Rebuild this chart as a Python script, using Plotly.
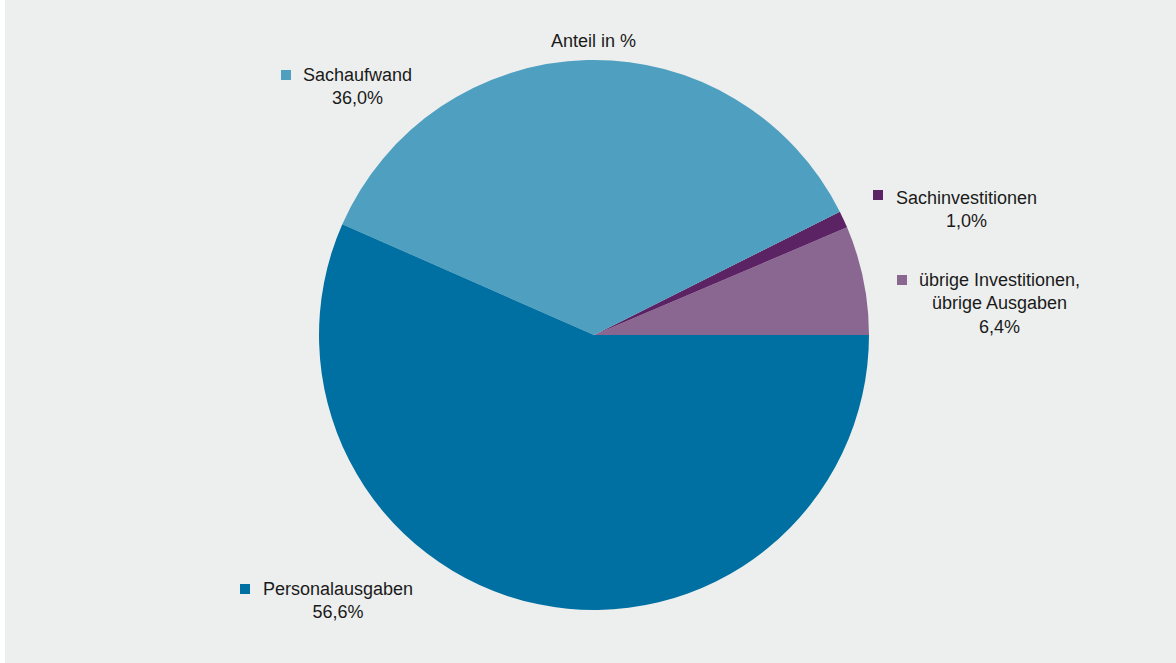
import plotly.graph_objects as go

categories = ["übrige Investitionen,<br>übrige Ausgaben", "Sachinvestitionen", "Sachaufwand", "Personalausgaben"]
values = [6.4, 1.0, 36.0, 56.6]
value_labels = ["6,4%", "1,0%", "36,0%", "56,6%"]
colors = ["#8a6791", "#5b2264", "#4f9fc1", "#0070a2"]
title_text = "Anteil in %"

W, H = 1176, 663
BG = "#edefee"
FONT = "Liberation Sans, Arial, Helvetica, sans-serif"
FS = 18

def px(x):
    return x / W

def py(y):
    return 1 - y / H

cx, cy, r = 594, 335, 275

# plotly's counterclockwise mode lays the first slice clockwise from `rotation`;
# shift so the first slice starts at 3 o'clock and runs upward.
rotation = 90 - values[0] / sum(values) * 360

fig = go.Figure(go.Pie(
    labels=categories,
    values=values,
    sort=False,
    direction="counterclockwise",
    rotation=rotation,
    marker=dict(colors=colors, line=dict(width=0)),
    textinfo="none",
    hoverinfo="label+percent",
    showlegend=False,
    domain=dict(x=[px(cx - r), px(cx + r)], y=[py(cy + r), py(cy - r)]),
))

# label placements: (text center x, text center y, square left x, square center y)
placements = [
    (1000, 304, 897, 280),
    (966, 209, 873, 195),
    (357, 86.5, 281, 75),
    (338, 600, 240, 589),
]

annotations = [dict(
    text=title_text, x=px(594), y=py(41), xref="paper", yref="paper",
    xanchor="center", yanchor="middle", showarrow=False,
    font=dict(family=FONT, size=FS, color="#1a1a1a"),
)]
shapes = [dict(
    type="rect", xref="paper", yref="paper", x0=0, x1=px(5), y0=0, y1=1,
    fillcolor="#ffffff", line=dict(width=0), layer="below",
)]
for cat, lab, col, (tx, ty, sx, sy) in zip(categories, value_labels, colors, placements):
    annotations.append(dict(
        text=f"{cat}<br>{lab}", x=px(tx), y=py(ty), xref="paper", yref="paper",
        xanchor="center", yanchor="middle", align="center", showarrow=False,
        font=dict(family=FONT, size=FS, color="#1a1a1a"),
    ))
    shapes.append(dict(
        type="rect", xref="paper", yref="paper",
        x0=px(sx), x1=px(sx + 10), y0=py(sy + 5), y1=py(sy - 5),
        fillcolor=col, line=dict(width=0),
    ))

fig.update_layout(
    width=W, height=H,
    margin=dict(l=0, r=0, t=0, b=0),
    paper_bgcolor=BG, plot_bgcolor=BG,
    annotations=annotations,
    shapes=shapes,
)

fig.write_html(
    "out.html",
    config={"displayModeBar": False},
    post_script="document.body.style.margin='0';document.body.style.overflow='hidden';",
)
